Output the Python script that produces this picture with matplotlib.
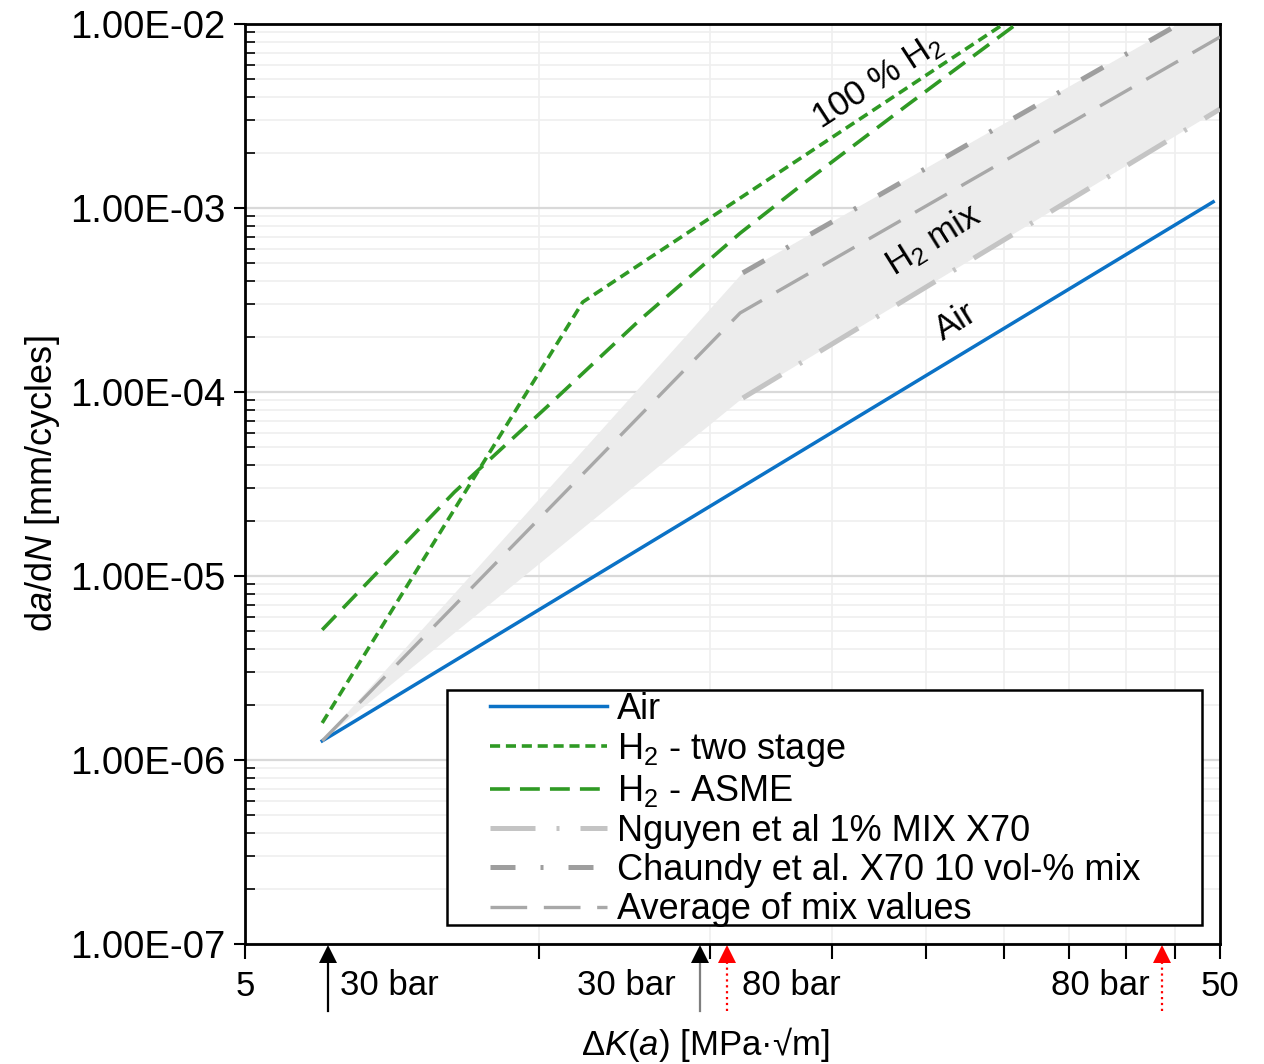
import matplotlib
matplotlib.use('Agg')
import matplotlib.pyplot as plt
import matplotlib.transforms as mtransforms
from matplotlib.ticker import FixedLocator, NullFormatter, FuncFormatter, LogLocator
from matplotlib.patches import Rectangle

plt.rcParams['font.family'] = ['Liberation Sans', 'DejaVu Sans']
plt.rcParams['mathtext.fontset'] = 'custom'
plt.rcParams['mathtext.rm'] = 'Liberation Sans'
plt.rcParams['mathtext.it'] = 'Liberation Sans:italic'

# =============================================================================
# Data
# =============================================================================
dk_air = [6.0, 49.2]
dadn_air = [1.27e-6, 1.08e-3]

dk_two = [6.0, 11.1, 30.0]
dadn_two = [1.59e-6, 3.08e-4, 1.0e-2]

dk_asme = [6.0, 8.2, 10.2, 12.7, 16.1, 18.9, 23.9, 31.0]
dadn_asme = [5.1e-6, 2.86e-5, 8.3e-5, 2.46e-4, 7.3e-4, 1.42e-3, 3.63e-3, 1.01e-2]

dk_nguyen = [16.2, 50.0]
dadn_nguyen = [9.27e-5, 3.45e-3]

dk_chaundy = [16.2, 50.0]
dadn_chaundy = [4.44e-4, 1.34e-2]

dk_avg = [6.0, 16.1, 50.0]
dadn_avg = [1.27e-6, 2.69e-4, 8.5e-3]

# pressure markers below the x axis
arrow_dk = [6.08, 14.66, 15.6, 43.6]
arrow_txt = ['30 bar', '30 bar', '80 bar', '80 bar']

fs = 25
green = '#2f9a24'

# =============================================================================
# Plot
# =============================================================================
fig = plt.figure(figsize=(12.64, 10.64), dpi=100)
ax = fig.add_axes([245 / 1264, 1 - 944 / 1064, 975 / 1264, 920 / 1064])
ax.set_xscale('log')
ax.set_yscale('log')
ax.set_xlim(5, 50)
ax.set_ylim(1e-7, 1e-2)

# H2 mix band
band_x = [dk_air[0]] + dk_chaundy + dk_nguyen[::-1]
band_y = [dadn_air[0]] + dadn_chaundy + dadn_nguyen[::-1]
ax.fill(band_x, band_y, color='#ececec', lw=0, zorder=1)

ax.plot(dk_air, dadn_air, color='#0b72c6', lw=2.5, label='Air', zorder=3)
ax.plot(dk_two, dadn_two, color=green, lw=2.6, dashes=(2.8, 1.6),
        label='H$_2$ - two stage', zorder=3)
ax.plot(dk_asme, dadn_asme, color=green, lw=2.6, dashes=(5.5, 2.8),
        label='H$_2$ - ASME', zorder=3)
ax.plot(dk_nguyen, dadn_nguyen, color='#c4c4c4', lw=3.6,
        dashes=(9.0, 4.2, 0.6, 4.2), label='Nguyen et al 1% MIX X70', zorder=3)
ax.plot(dk_chaundy, dadn_chaundy, color='#9e9e9e', lw=3.6,
        dashes=(5.0, 5.0, 0.6, 5.0), label='Chaundy et al. X70 10 vol-% mix', zorder=3)
ax.plot(dk_avg, dadn_avg, color='#a8a8a8', lw=2.4, dashes=(11.0, 5.0),
        label='Average of mix values', zorder=3)

# curve labels
ax.text(22.3, 4.84e-3, '100 % H$_2$', fontsize=fs, rotation=33,
        ha='center', va='center', rotation_mode='anchor', zorder=4)
ax.text(25.4, 6.7e-4, 'H$_2$ mix', fontsize=fs, rotation=32,
        ha='center', va='center', rotation_mode='anchor', zorder=4)
ax.text(26.8, 2.4e-4, 'Air', fontsize=fs, rotation=32,
        ha='center', va='center', rotation_mode='anchor', zorder=4)

# Axes ticks
ax.xaxis.set_major_locator(FixedLocator([5, 50]))
ax.xaxis.set_major_formatter(FuncFormatter(lambda v, p: f'{v:g}'))
ax.xaxis.set_minor_locator(FixedLocator([10, 15, 20, 25, 30, 35, 40, 45]))
ax.xaxis.set_minor_formatter(NullFormatter())
ax.yaxis.set_major_locator(LogLocator(base=10, numticks=10))
ax.yaxis.set_major_formatter(FuncFormatter(lambda v, p: f'{v:.2E}'))
ax.yaxis.set_minor_locator(LogLocator(base=10, subs=range(2, 10), numticks=20))
ax.yaxis.set_minor_formatter(NullFormatter())

ax.tick_params(axis='x', which='both', direction='out', length=11, width=1.5,
               labelsize=fs, pad=8)
ax.tick_params(axis='y', which='major', direction='out', length=8, width=1.5,
               labelsize=27.5, pad=6)
ax.tick_params(axis='y', which='minor', direction='in', length=7, width=1.2)

# Grid
ax.set_axisbelow(True)
ax.grid(which='major', axis='y', color='#d9d9d9', lw=1.6)
ax.grid(which='minor', axis='y', color='#efefef', lw=1.2)
ax.grid(which='minor', axis='x', color='#efefef', lw=1.2)

for s in ax.spines.values():
    s.set_linewidth(2)
    s.set_color('black')

# Labels
ax.set_ylabel('d$a$/d$N$ [mm/cycles]', fontsize=26, labelpad=6)
ax.set_xlabel('Δ$K$($a$) [MPa·√m]', fontsize=fs)
ax.xaxis.set_label_coords(0.472, -0.088)

# Pressure arrows
trans = mtransforms.blended_transform_factory(ax.transData, ax.transAxes)
shaft_col = ['black', '#7f7f7f', 'red', 'red']
shaft_ls = ['-', '-', ':', ':']
head_col = ['black', 'black', 'red', 'red']
offs = [12, -25, 15, -12]
for xk, txt, sc, sl, hc, off in zip(arrow_dk, arrow_txt, shaft_col, shaft_ls, head_col, offs):
    ax.plot([xk, xk], [-0.073, -0.014], transform=trans, clip_on=False,
            color=sc, ls=sl, lw=1.6)
    ax.plot([xk], [-0.0105], transform=trans, clip_on=False, marker='^',
            ms=13, color=hc, mew=0)
    ax.annotate(txt, xy=(xk, -0.045), xycoords=trans, xytext=(off * 0.72, 0),
                textcoords='offset points', fontsize=fs,
                ha='left' if off > 0 else 'right', va='center',
                annotation_clip=False)

# Legend with fixed box
box = Rectangle((0.207, 0.0207), 0.7745, 0.2554, transform=ax.transAxes,
                facecolor='white', edgecolor='black', lw=1.8, zorder=5)
ax.add_patch(box)
lgd = ax.legend(loc='upper left', bbox_to_anchor=((488 - 245) / 975, (944 - 690) / 920),
                prop={'size': 26}, frameon=False, borderpad=0.05, borderaxespad=0,
                handlelength=3.24, handletextpad=0.28, labelspacing=0.12)
lgd.set_zorder(6)

fig.savefig('out.png', dpi=100)
